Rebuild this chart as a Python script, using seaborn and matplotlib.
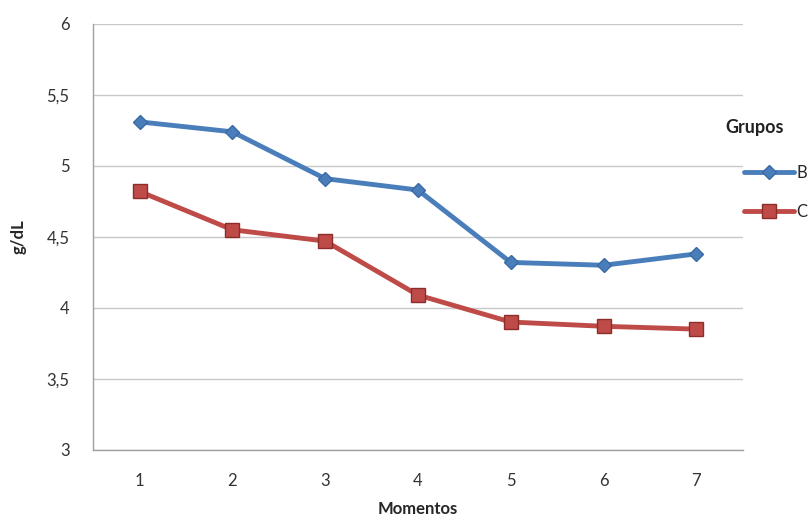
import pandas as pd
import seaborn as sns
import matplotlib.pyplot as plt
from matplotlib.lines import Line2D
from matplotlib.ticker import FixedLocator

momentos = [1, 2, 3, 4, 5, 6, 7]
grupo_b = [5.31, 5.24, 4.91, 4.83, 4.32, 4.30, 4.38]
grupo_c = [4.82, 4.55, 4.47, 4.09, 3.90, 3.87, 3.85]
y_ticks = [3, 3.5, 4, 4.5, 5, 5.5, 6]

df = pd.DataFrame({
    'Momentos': momentos * 2,
    'valor': grupo_b + grupo_c,
    'Grupo': ['B'] * len(momentos) + ['C'] * len(momentos),
})

sns.set_style('white')
plt.rcParams['font.family'] = ['Lato', 'DejaVu Sans']

fig = plt.figure(figsize=(8.1, 5.2), dpi=100)
ax = fig.add_axes([0.115, 0.135, 0.802, 0.819])

cores = {'B': '#4a7ebb', 'C': '#be4b48'}
bordas = {'B': '#3a6aa5', 'C': '#8c2d2a'}
marcas = {'B': 'D', 'C': 's'}
tamanhos = {'B': 7, 'C': 10}

for g in ['B', 'C']:
    sub = df[df['Grupo'] == g]
    sns.lineplot(
        data=sub, x='Momentos', y='valor', ax=ax,
        color=cores[g], linewidth=3.5,
        marker=marcas[g], markersize=tamanhos[g],
        markerfacecolor=cores[g], markeredgecolor=bordas[g], markeredgewidth=1,
    )

ax.set_ylim(3, 6)
ax.set_xlim(0.5, 7.5)
ax.yaxis.set_major_locator(FixedLocator(y_ticks))
ax.set_yticklabels([f'{v:g}'.replace('.', ',') for v in y_ticks], fontsize=12, color='#333333')
ax.set_xticks(momentos)
ax.set_xticklabels([str(m) for m in momentos], fontsize=12, color='#333333')
ax.set_xticks([m + 0.5 for m in [0] + momentos], minor=True)
ax.tick_params(axis='x', which='major', length=0, pad=17)
ax.tick_params(axis='x', which='minor', length=5, color='#a0a0a0', width=1, direction='out')
ax.tick_params(axis='y', which='major', length=5, color='#a0a0a0', width=1, direction='out', pad=12)

ax.grid(axis='y', color='#c8c8c8', linewidth=1)
ax.set_axisbelow(True)
for s in ['top', 'right']:
    ax.spines[s].set_visible(False)
for s in ['left', 'bottom']:
    ax.spines[s].set_color('#a0a0a0')
    ax.spines[s].set_linewidth(1)

ax.set_xlabel('Momentos', fontsize=12, fontweight='bold', labelpad=8)
ax.set_ylabel('g/dL', fontsize=12, fontweight='bold', labelpad=14)

# legenda estilo Excel: titulo separado, entradas deslocadas para a direita
fig.text(0.895, 0.754, 'Grupos', fontsize=13, fontweight='bold',
         va='center', ha='left', color='#222222')
handles = [
    Line2D([], [], color=cores[g], linewidth=3.5, marker=marcas[g],
           markersize=tamanhos[g], markerfacecolor=cores[g],
           markeredgecolor=bordas[g], label=g)
    for g in ['B', 'C']
]
leg = fig.legend(handles=handles, loc='upper left',
                 bbox_to_anchor=(0.918, 0.683), frameon=False, fontsize=12,
                 handlelength=3.0, handletextpad=0.15, labelspacing=1.4,
                 borderpad=0, borderaxespad=0)

fig.savefig('out.png', dpi=100)
